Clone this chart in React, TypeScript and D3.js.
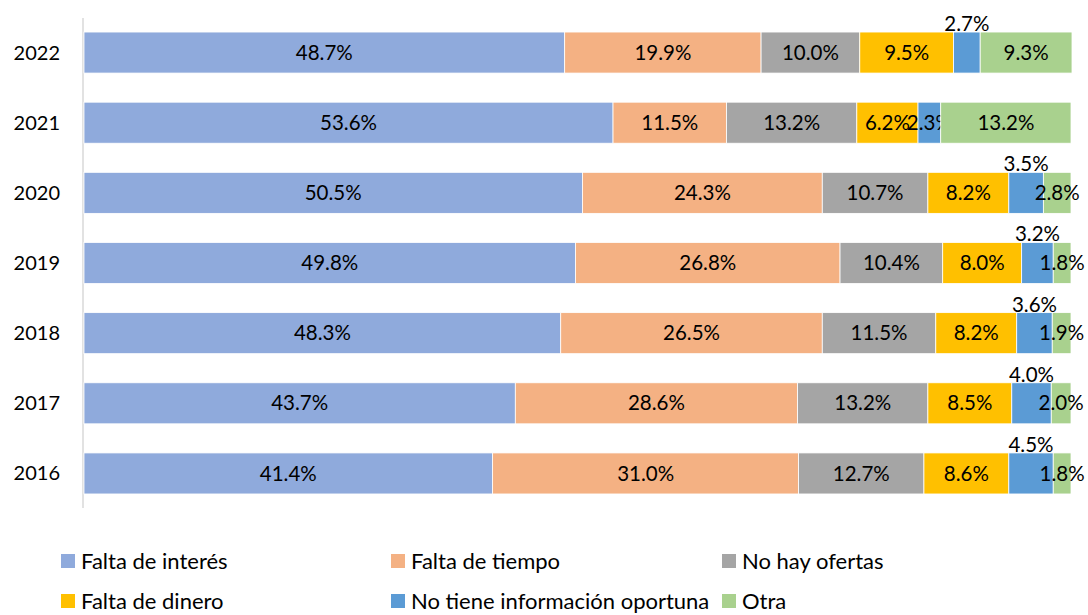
import { useEffect, useRef } from 'react'
import * as d3 from 'd3'

const years = ["2022", "2021", "2020", "2019", "2018", "2017", "2016"]
const seriesNames = [
  "Falta de interés",
  "Falta de tiempo",
  "No hay ofertas",
  "Falta de dinero",
  "No tiene información oportuna",
  "Otra",
]
const seriesColors = ["#8FAADC", "#F4B183", "#A5A5A5", "#FFC000", "#5B9BD5", "#A9D18E"]

// values per series, ordered like years
const faltaInteres = [48.7, 53.6, 50.5, 49.8, 48.3, 43.7, 41.4]
const faltaTiempo = [19.9, 11.5, 24.3, 26.8, 26.5, 28.6, 31.0]
const noHayOfertas = [10.0, 13.2, 10.7, 10.4, 11.5, 13.2, 12.7]
const faltaDinero = [9.5, 6.2, 8.2, 8.0, 8.2, 8.5, 8.6]
const noInformacion = [2.7, 2.3, 3.5, 3.2, 3.6, 4.0, 4.5]
const otra = [9.3, 13.2, 2.8, 1.8, 1.9, 2.0, 1.8]

// years where the "No tiene información" label sits above the bar
const labelAboveYears = ["2022", "2020", "2019", "2018", "2017", "2016"]

const W = 1088
const H = 615
const FONT = "Lato, 'Open Sans', sans-serif"

export default function App() {
  const svgRef = useRef<SVGSVGElement>(null)

  useEffect(() => {
    if (!svgRef.current) return
    const svg = d3.select(svgRef.current)
    svg.selectAll("*").remove()

    const allSeries = [faltaInteres, faltaTiempo, noHayOfertas, faltaDinero, noInformacion, otra]
    const rows = years.map((y, i) => {
      const r: any = { year: y }
      seriesNames.forEach((s, j) => { r[s] = allSeries[j][i] })
      return r
    })

    const stacked = d3.stack<any>().keys(seriesNames)(rows)

    const x = d3.scaleLinear().domain([0, 100]).range([84, 1071])
    const y = d3.scaleBand().domain(years).range([18, 508]).paddingInner(0.415).paddingOuter(0.2)

    // axis line
    svg.append("line")
      .attr("x1", 83).attr("x2", 83)
      .attr("y1", 18).attr("y2", 508)
      .attr("stroke", "#D9D9D9")
      .attr("stroke-width", 1.5)

    // year labels
    svg.append("g").selectAll("text")
      .data(years)
      .join("text")
      .attr("x", 60)
      .attr("y", d => (y(d) as number) + y.bandwidth() / 2)
      .attr("dy", "0.35em")
      .attr("text-anchor", "end")
      .attr("font-family", FONT)
      .attr("font-size", 20)
      .attr("fill", "#000")
      .text(d => d)

    stacked.forEach((layer, j) => {
      const g = svg.append("g")
      g.selectAll("rect")
        .data(layer)
        .join("rect")
        .attr("x", d => x(d[0]))
        .attr("width", d => x(d[1]) - x(d[0]))
        .attr("y", d => y(d.data.year) as number)
        .attr("height", y.bandwidth())
        .attr("fill", seriesColors[j])
        .attr("stroke", "#fff")
        .attr("stroke-width", 0.8)

      g.selectAll("text")
        .data(layer)
        .join("text")
        .attr("x", d => (x(d[0]) + x(d[1])) / 2)
        .attr("y", d => {
          const top = y(d.data.year) as number
          if (j === 4 && labelAboveYears.includes(d.data.year)) return top - 1
          return top + y.bandwidth() / 2
        })
        .attr("dy", d => (j === 4 && labelAboveYears.includes(d.data.year)) ? "0" : "0.35em")
        .attr("text-anchor", "middle")
        .attr("font-family", FONT)
        .attr("font-size", 20.5)
        .attr("fill", "#000")
        .text(d => (d[1] - d[0]).toFixed(1) + "%")
    })

    // legend
    const legendX = [61, 391, 722]
    const legendY = [561, 601]
    const lg = svg.append("g")
    seriesNames.forEach((s, i) => {
      const lx = legendX[i % 3]
      const ly = legendY[Math.floor(i / 3)]
      lg.append("rect")
        .attr("x", lx).attr("y", ly - 7)
        .attr("width", 14).attr("height", 14)
        .attr("fill", seriesColors[i])
      lg.append("text")
        .attr("x", lx + 20)
        .attr("y", ly)
        .attr("dy", "0.35em")
        .attr("font-family", FONT)
        .attr("font-size", 22)
        .attr("fill", "#000")
        .text(s)
    })
  }, [])

  return (
    <svg
      ref={svgRef}
      width={W}
      height={H}
      style={{ position: 'absolute', left: 0, top: 0, background: '#fff' }}
    />
  )
}
